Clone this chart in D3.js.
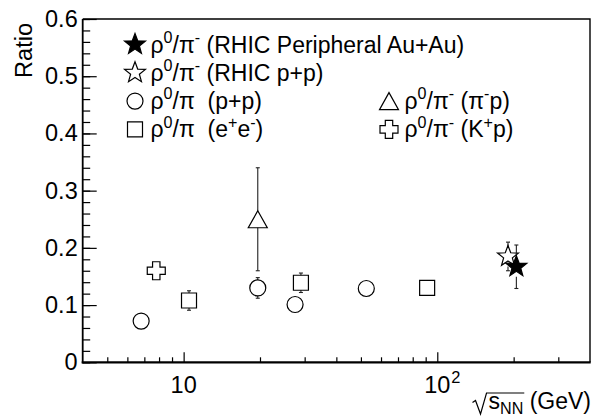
<!DOCTYPE html>
<html lang="en">
  <head>
    <meta charset="UTF-8" />
    <script src="https://cdn.jsdelivr.net/npm/d3@7"></script>
    <title>rho0/pi ratio</title>
    <style>
      body { margin: 0; background: white; }
      svg { display: block; font-family: "Liberation Sans", Arial, sans-serif; }
      text { white-space: pre; }
    </style>
  </head>
  <body>
    <script>
      /*------------------- data ---------------------*/
      // each point: [sqrt(s_NN) in GeV, ratio, error]
      const auAuStar = [[205, 0.167, 0.038]];
      const rhicPPStar = [[190, 0.185, 0.025]];
      const ppCircle = [[6.8, 0.072, 0], [19.6, 0.130, 0.018], [27.5, 0.101, 0], [52.5, 0.129, 0]];
      const eeSquare = [[10.5, 0.108, 0.017], [29, 0.139, 0.017], [91.2, 0.130, 0.004]];
      const piPTriangle = [[19.6, 0.25, 0.09]];
      const kPCross = [[7.8, 0.160, 0]];

      const legendLabels = [
        "ρ^{0}/π^{-} (RHIC Peripheral Au+Au)",
        "ρ^{0}/π^{-} (RHIC p+p)",
        "ρ^{0}/π  (p+p)",
        "ρ^{0}/π  (e^{+}e^{-})",
        "ρ^{0}/π^{-} (π^{-}p)",
        "ρ^{0}/π^{-} (K^{+}p)",
      ];

      const yMajorTicks = [0, 0.1, 0.2, 0.3, 0.4, 0.5, 0.6];
      const xMajorTicks = [10, 100];
      const xTickLabels = ["10", "10^{2}"];

      /*------------------- layout -------------------*/
      const width = 595, height = 417;
      const frame = { left: 82.7, right: 590, top: 19, bottom: 362.3 };
      const labelSize = 23.5, legendSize = 23, titleSize = 23;

      const x = d3.scaleLog().domain([4, 400]).range([frame.left, frame.right]);
      const y = d3.scaleLinear().domain([0, 0.6]).range([frame.bottom, frame.top]);

      const svg = d3.select("body").append("svg")
        .attr("width", width).attr("height", height);

      // ROOT-ish latex: ^{..} superscript, _{..} subscript
      function richText(sel, str, fs) {
        const parts = str.split(/(\^\{[^}]*\}|_\{[^}]*\})/).filter(s => s.length);
        let shift = 0;
        parts.forEach(p => {
          let mode = 0, t = p;
          if (p.startsWith("^{")) { mode = -1; t = p.slice(2, -1); }
          if (p.startsWith("_{")) { mode = 1; t = p.slice(2, -1); }
          const target = mode === 0 ? 0 : mode * (mode < 0 ? 0.42 : 0.24) * fs;
          sel.append("tspan")
            .attr("dy", target - shift)
            .attr("font-size", mode === 0 ? fs : fs * 0.7)
            .text(t);
          shift = target;
        });
        return sel;
      }

      /*------------------- markers -------------------*/
      function starPath(R, r) {
        const pts = [];
        for (let i = 0; i < 10; i++) {
          const a = -Math.PI / 2 + i * Math.PI / 5;
          const rad = i % 2 ? r : R;
          pts.push([rad * Math.cos(a), rad * Math.sin(a)]);
        }
        return "M" + pts.map(p => p.join(",")).join("L") + "Z";
      }
      const shapes = {
        star: { d: starPath(11, 4.6), half: 10 },
        circle: { d: d3.symbol(d3.symbolCircle, Math.PI * 64)(), half: 8 },
        square: { d: "M-7.5,-7.5H7.5V7.5H-7.5Z", half: 7.5 },
        triangle: { d: "M0,-8.5L9.5,8.5H-9.5Z", half: 8.5 },
        cross: { d: "M-3.7,-9H3.7V-3.7H9V3.7H3.7V9H-3.7V3.7H-9V-3.7H-3.7Z", half: 9 },
      };

      const series = [
        { data: ppCircle, shape: "circle", filled: false },
        { data: eeSquare, shape: "square", filled: false },
        { data: piPTriangle, shape: "triangle", filled: false },
        { data: kPCross, shape: "cross", filled: false },
        { data: rhicPPStar, shape: "star", filled: false },
        { data: auAuStar, shape: "star", filled: true },
      ];

      /*------------------- axes -------------------*/
      // y axis, ticks pointing into the frame
      const yAxisG = svg.append("g").attr("transform", `translate(${frame.left},0)`);
      yAxisG.call(d3.axisLeft(y).tickValues(d3.range(0, 0.601, 0.02)).tickSize(-7.5).tickSizeOuter(0).tickFormat(""));
      yAxisG.append("g").call(d3.axisLeft(y).tickValues(yMajorTicks).tickSize(-14).tickSizeOuter(0)
        .tickPadding(5).tickFormat(d => d === 0 ? "0" : d3.format(".1f")(d)));
      yAxisG.selectAll("text").attr("font-size", labelSize).attr("font-family", null).attr("fill", "#000");

      // x axis, log
      const xMinor = [];
      [1, 10, 100].forEach(dec => d3.range(1, 10).forEach(k => {
        const v = k * dec;
        if (v > 4 && v < 400 && k !== 1) xMinor.push(v);
      }));
      const xAxisG = svg.append("g").attr("transform", `translate(0,${frame.bottom})`);
      xAxisG.call(d3.axisBottom(x).tickValues(xMinor).tickSize(-5).tickSizeOuter(0).tickFormat(""));
      xAxisG.append("g").call(d3.axisBottom(x).tickValues(xMajorTicks).tickSize(-10).tickSizeOuter(0).tickFormat(""));

      svg.selectAll(".tick line").attr("stroke", "#000").attr("stroke-width", 1.2);
      svg.selectAll(".domain").remove();

      // x tick labels: mantissa centred on the tick, exponent hanging right
      xMajorTicks.forEach((v, i) => {
        const lab = svg.append("text")
          .attr("x", x(v)).attr("y", 393)
          .attr("text-anchor", "middle").attr("font-size", labelSize)
          .text(xTickLabels[i].replace(/\^\{.*\}/, ""));
        const m = xTickLabels[i].match(/\^\{(.*)\}/);
        if (m) {
          const w = lab.node().getComputedTextLength();
          svg.append("text")
            .attr("x", x(v) + w / 2 + 1).attr("y", 383)
            .attr("font-size", labelSize * 0.7)
            .text(m[1]);
        }
      });

      // frame
      svg.append("path")
        .attr("d", `M${frame.left},${frame.top}H${frame.right}V${frame.bottom}`)
        .attr("fill", "none").attr("stroke", "#000").attr("stroke-width", 1.4);
      svg.append("line")
        .attr("x1", frame.left).attr("x2", frame.left).attr("y1", frame.top).attr("y2", frame.bottom + 1)
        .attr("stroke", "#000").attr("stroke-width", 1.8);
      svg.append("line")
        .attr("x1", frame.left - 1).attr("x2", frame.right + 0.7).attr("y1", frame.bottom).attr("y2", frame.bottom)
        .attr("stroke", "#000").attr("stroke-width", 2.2);

      // axis titles
      svg.append("text")
        .attr("transform", `translate(31.5,${frame.top + 4}) rotate(-90)`)
        .attr("text-anchor", "end").attr("font-size", labelSize)
        .text("Ratio");

      const xTitleBase = 408.5;
      const xTitle = svg.append("text")
        .attr("x", 591).attr("y", xTitleBase)
        .attr("text-anchor", "end");
      richText(xTitle, "s_{NN} (GeV)", titleSize);
      {
        const node = xTitle.node();
        const sx = node.getStartPositionOfChar(0).x;
        const ex = node.getEndPositionOfChar(2).x;
        const by = xTitleBase;
        svg.append("path")
          .attr("d", `M${sx - 16},${by - 6}L${sx - 13},${by - 8}L${sx - 8},${by + 5.5}L${sx - 2},${by - 15.5}H${ex + 1}`)
          .attr("fill", "none").attr("stroke", "#000").attr("stroke-width", 1.2);
      }

      /*------------------- points -------------------*/
      const plot = svg.append("g");
      series.forEach(s => {
        const sh = shapes[s.shape];
        s.data.forEach(([xv, yv, e]) => {
          const cx = x(xv), cy = y(yv);
          if (e > 0) {
            const top = y(yv + e), bot = y(yv - e);
            const g = plot.append("g").attr("stroke", "#222").attr("stroke-width", 1.1);
            if (top < cy - sh.half) {
              g.append("line").attr("x1", cx).attr("x2", cx).attr("y1", top).attr("y2", cy - sh.half);
              g.append("line").attr("x1", cx - 2).attr("x2", cx + 2).attr("y1", top).attr("y2", top);
            }
            if (bot > cy + sh.half) {
              g.append("line").attr("x1", cx).attr("x2", cx).attr("y1", cy + sh.half).attr("y2", bot);
              g.append("line").attr("x1", cx - 2).attr("x2", cx + 2).attr("y1", bot).attr("y2", bot);
            }
          }
          plot.append("path")
            .attr("d", sh.d)
            .attr("transform", `translate(${cx},${cy})`)
            .attr("fill", s.filled ? "#000" : "none")
            .attr("stroke", "#000").attr("stroke-width", 1.2);
        });
      });

      /*------------------- legend -------------------*/
      const legendShapes = ["star", "star", "circle", "square", "triangle", "cross"];
      const legendFilled = [true, false, false, false, false, false];
      const legendCol = [0, 0, 0, 0, 1, 1];
      const legendRow = [0, 1, 2, 3, 2, 3];
      const colX = [135, 389], rowY0 = 44.5, rowStep = 28.3;

      legendLabels.forEach((lab, i) => {
        const mx = colX[legendCol[i]], my = rowY0 + legendRow[i] * rowStep;
        svg.append("path")
          .attr("d", shapes[legendShapes[i]].d)
          .attr("transform", `translate(${mx},${my})`)
          .attr("fill", legendFilled[i] ? "#000" : "none")
          .attr("stroke", "#000").attr("stroke-width", 1.2);
        const t = svg.append("text")
          .attr("x", mx + 15.5).attr("y", my + 8);
        richText(t, lab, legendSize);
      });
    </script>
  </body>
</html>
